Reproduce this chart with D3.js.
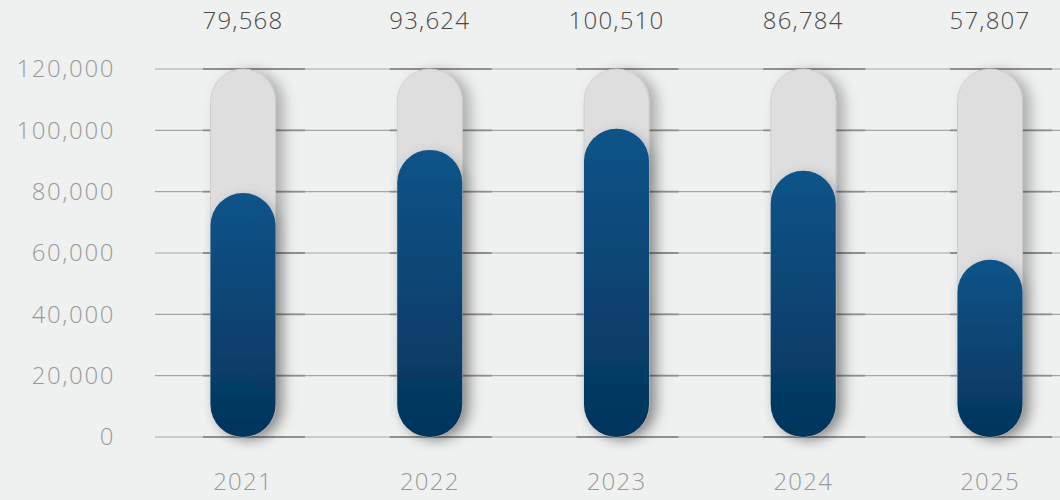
<!DOCTYPE html>
<html>
<head>
<meta charset="utf-8">
<script src="https://cdn.jsdelivr.net/npm/d3@7"></script>
<style>
  body { margin: 0; background: #eff1f0; }
  svg { display: block; font-family: "Open Sans", "Lato", sans-serif; }
</style>
</head>
<body>
<svg width="1060" height="500"></svg>
<script>
const years = ["2021", "2022", "2023", "2024", "2025"];
const values = [79568, 93624, 100510, 86784, 57807];
const yTicks = [0, 20000, 40000, 60000, 80000, 100000, 120000];
const yMax = 120000;

const svg = d3.select("svg");
const width = +svg.attr("width");
const height = +svg.attr("height");

const data = years.map((y, i) => ({ year: y, value: values[i] }));

const y = d3.scaleLinear().domain([0, yMax]).range([437, 69]);
const x = d3.scalePoint().domain(years).range([243, 990]);
const barW = 65;

const defs = svg.append("defs");

const grad = defs.append("linearGradient")
  .attr("id", "blueGrad")
  .attr("x1", 0).attr("y1", 0).attr("x2", 0).attr("y2", 1);
grad.append("stop").attr("offset", "0%").attr("stop-color", "#0c5489");
grad.append("stop").attr("offset", "100%").attr("stop-color", "#05345b");

const shadow = defs.append("filter")
  .attr("id", "shadow")
  .attr("x", "-60%").attr("y", "-20%").attr("width", "220%").attr("height", "140%");
shadow.append("feDropShadow")
  .attr("dx", 8).attr("dy", 2)
  .attr("stdDeviation", 7)
  .attr("flood-color", "#000")
  .attr("flood-opacity", 0.28);

const blueShadow = defs.append("filter")
  .attr("id", "blueShadow")
  .attr("x", "-60%").attr("y", "-20%").attr("width", "220%").attr("height", "140%");
blueShadow.append("feDropShadow")
  .attr("dx", 4).attr("dy", 3)
  .attr("stdDeviation", 6)
  .attr("flood-color", "#000")
  .attr("flood-opacity", 0.22);

// grid lines
const grid = svg.append("g").attr("class", "grid");
grid.selectAll("line")
  .data(yTicks)
  .enter().append("line")
  .attr("x1", 155).attr("x2", width)
  .attr("y1", d => y(d)).attr("y2", d => y(d))
  .attr("stroke", "#a5a5a5")
  .attr("stroke-width", 1.2);

// darker segments round each bar
yTicks.forEach(t => {
  grid.selectAll(null)
    .data(data)
    .enter().append("line")
    .attr("x1", d => x(d.year) - 40).attr("x2", d => x(d.year) + 62)
    .attr("y1", y(t)).attr("y2", y(t))
    .attr("stroke", "#8f8f8f")
    .attr("stroke-width", 1.8);
});

// y axis labels
svg.append("g")
  .selectAll("text")
  .data(yTicks)
  .enter().append("text")
  .attr("x", 115)
  .attr("y", d => y(d))
  .attr("dy", "0.35em")
  .attr("text-anchor", "end")
  .attr("font-size", "24px")
  .attr("font-weight", 300)
  .attr("letter-spacing", "1.6px")
  .attr("fill", "#999")
  .text(d => d3.format(",")(d));

// background capsules
const bars = svg.append("g").attr("class", "bars");
bars.selectAll("rect.track")
  .data(data)
  .enter().append("rect")
  .attr("class", "track")
  .attr("x", d => x(d.year) - barW / 2)
  .attr("y", y(yMax))
  .attr("width", barW)
  .attr("height", y(0) - y(yMax))
  .attr("rx", barW / 2)
  .attr("fill", "#dedede")
  .attr("stroke", "#c9c9c9")
  .attr("stroke-width", 0.8)
  .attr("filter", "url(#shadow)");

// value capsules
bars.selectAll("rect.value")
  .data(data)
  .enter().append("rect")
  .attr("class", "value")
  .attr("x", d => x(d.year) - barW / 2)
  .attr("y", d => y(d.value))
  .attr("width", barW)
  .attr("height", d => y(0) - y(d.value))
  .attr("rx", barW / 2)
  .attr("fill", "url(#blueGrad)")
  .attr("filter", "url(#blueShadow)");

// value labels on top
svg.append("g")
  .selectAll("text")
  .data(data)
  .enter().append("text")
  .attr("x", d => x(d.year))
  .attr("y", 21)
  .attr("dy", "0.35em")
  .attr("text-anchor", "middle")
  .attr("font-size", "24px")
  .attr("font-weight", 300)
  .attr("letter-spacing", "1.2px")
  .attr("fill", "#4a4a4a")
  .text(d => d3.format(",")(d.value));

// year labels
svg.append("g")
  .selectAll("text")
  .data(data)
  .enter().append("text")
  .attr("x", d => x(d.year))
  .attr("y", 482)
  .attr("dy", "0.35em")
  .attr("text-anchor", "middle")
  .attr("font-size", "24px")
  .attr("font-weight", 300)
  .attr("letter-spacing", "1.2px")
  .attr("fill", "#999")
  .text(d => d.year);
</script>
</body>
</html>
